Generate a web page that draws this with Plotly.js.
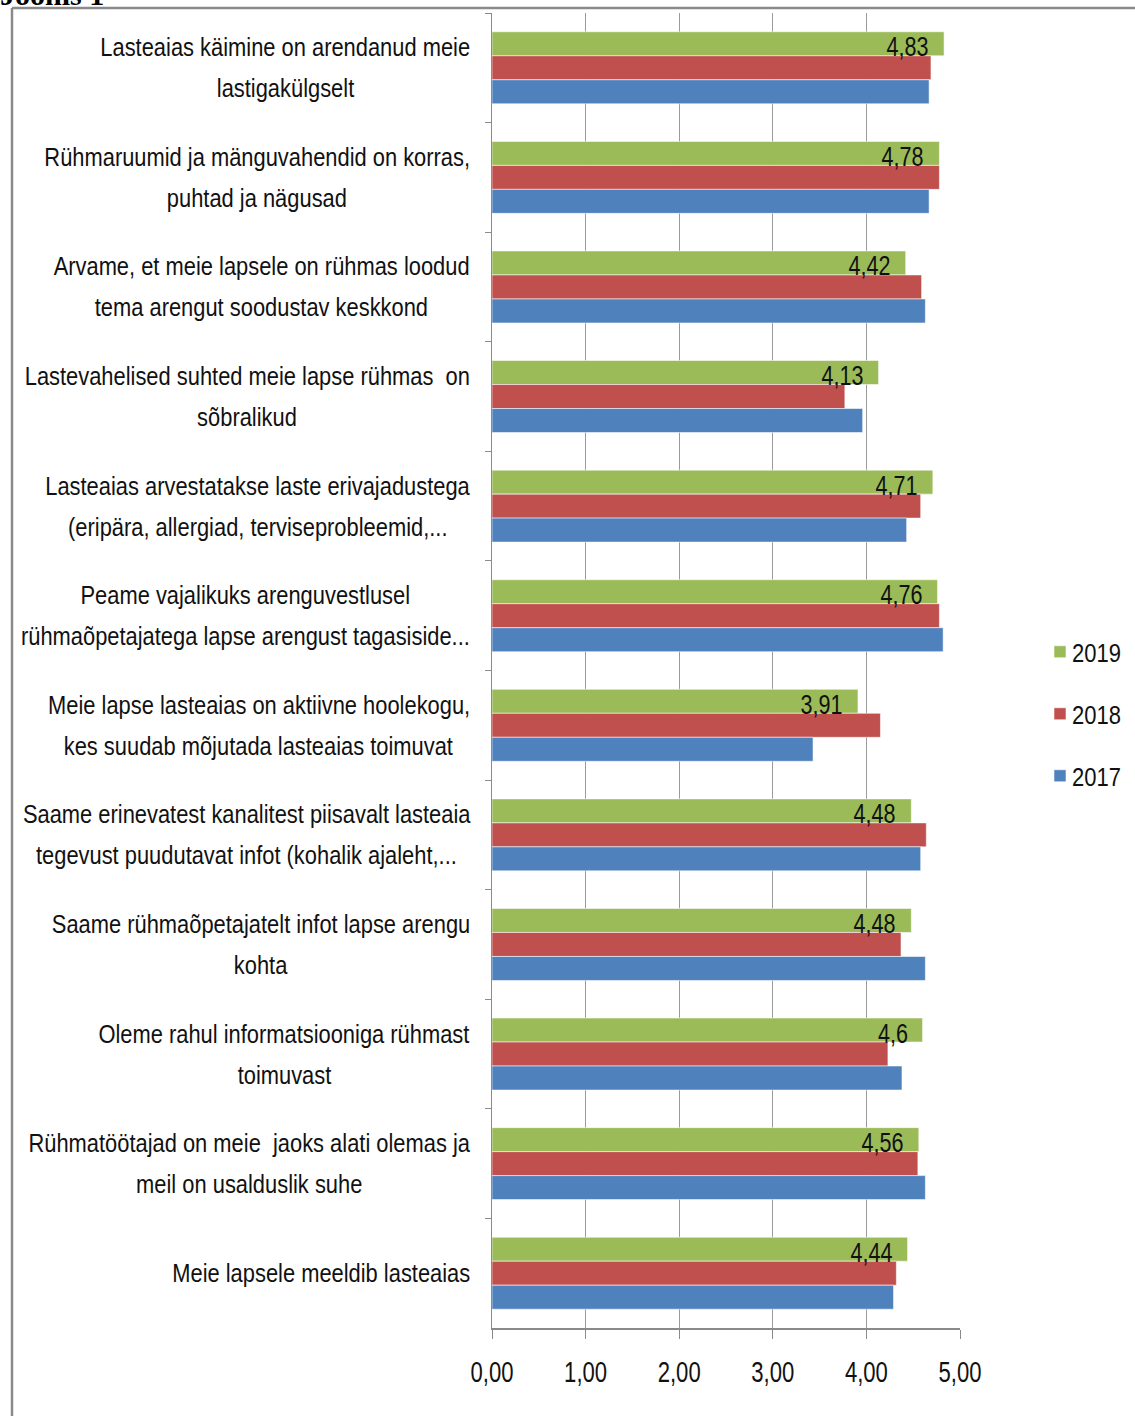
<!DOCTYPE html>
<html>
<head>
<meta charset="utf-8">
<script src="https://cdn.plot.ly/plotly-3.0.1.min.js"></script>
<style>
html,body{margin:0;padding:0;background:#fff;overflow:hidden;}
#chart{width:1135px;height:1416px;}
</style>
</head>
<body>
<div id="chart"></div>
<script>
// ---- data ----
var categories = [
  "Lasteaias käimine on arendanud meie\nlastigakülgselt",
  "Rühmaruumid ja mänguvahendid on korras,\npuhtad ja nägusad",
  "Arvame, et meie lapsele on rühmas loodud\ntema arengut soodustav keskkond",
  "Lastevahelised suhted meie lapse rühmas\u00a0 on\nsõbralikud",
  "Lasteaias arvestatakse laste erivajadustega\n(eripära, allergiad, terviseprobleemid,...",
  "Peame vajalikuks arenguvestlusel\nrühmaõpetajatega lapse arengust tagasiside...",
  "Meie lapse lasteaias on aktiivne hoolekogu,\nkes suudab mõjutada lasteaias toimuvat",
  "Saame erinevatest kanalitest piisavalt lasteaia\ntegevust puudutavat infot (kohalik ajaleht,...",
  "Saame rühmaõpetajatelt infot lapse arengu\nkohta",
  "Oleme rahul informatsiooniga rühmast\ntoimuvast",
  "Rühmatöötajad on meie\u00a0 jaoks alati olemas ja\nmeil on usalduslik suhe",
  "Meie lapsele meeldib lasteaias"
];
var values2019 = [4.83, 4.78, 4.42, 4.13, 4.71, 4.76, 3.91, 4.48, 4.48, 4.6, 4.56, 4.44];
var values2018 = [4.69, 4.78, 4.59, 3.77, 4.58, 4.78, 4.15, 4.64, 4.37, 4.23, 4.55, 4.32];
var values2017 = [4.67, 4.67, 4.63, 3.96, 4.43, 4.82, 3.43, 4.58, 4.63, 4.38, 4.63, 4.29];
var seriesNames = ["2019", "2018", "2017"];
var tickValues = [0, 1, 2, 3, 4, 5];
var figureTitle = "Joonis 1";

// ---- layout helpers ----
var W = 1135, H = 1416;
var ML = 492, MR = 175, MT = 13, MB = 88;
var PW = W - ML - MR, PH = H - MT - MB;
function xp(px){ return (px - ML) / PW; }
function yp(py){ return (H - MB - py) / PH; }

var FONT = '"Liberation Sans", Arial, sans-serif';
var FS_LAB = 25, FS_VAL = 28, FS_TICK = 30, FS_LEG = 25;
var colors = ["#9BBB59", "#C0504D", "#4F81BD"];

var ids = categories.map(function(c, i){ return "c" + i; });
function fmt(v){ return String(v).replace(".", ","); }

// text measuring, for the narrow look of the original font
var cv = document.createElement("canvas");
var ctx = cv.getContext("2d");
function mw(s, size){ ctx.font = size + "px " + FONT; return ctx.measureText(s).width; }
var SX_LAB = 370 / mw(categories[0].split("\n")[0], FS_LAB);
var SX_VAL = 42 / mw("4,83", FS_VAL);
var SX_TICK = 43 / mw("0,00", FS_TICK);
var SX_LEG = 49 / mw("2019", FS_LEG);

var series = [values2019, values2018, values2017];
var traces = series.map(function(vals, k){
  return {
    type: "bar", orientation: "h",
    name: seriesNames[k],
    x: vals, y: ids,
    marker: {color: colors[k], line: {color: "rgba(255,255,255,0.55)", width: 1}},
    legendgroup: "g" + k,
    textposition: "none",
    hoverinfo: "x+name"
  };
});

var annotations = [];
var labelIdx = [];
categories.forEach(function(c, i){
  var lines = c.split("\n");
  var maxW = 0;
  lines.forEach(function(l){ maxW = Math.max(maxW, mw(l, FS_LAB) * SX_LAB); });
  var cx = 470 - maxW / 2;
  var n = lines.length;
  lines.forEach(function(l, j){
    labelIdx.push(annotations.length);
    annotations.push({
      xref: "paper", yref: "y", x: xp(cx), y: ids[i],
      xanchor: "center", yanchor: "middle",
      yshift: ((n - 1) / 2 - j) * 41,
      text: l, showarrow: false,
      font: {family: FONT, size: FS_LAB, color: "#111"}
    });
  });
});
var valIdx = [];
values2019.forEach(function(v, i){
  valIdx.push(annotations.length);
  annotations.push({
    xref: "x", yref: "y", x: v, y: ids[i],
    xanchor: "right", yanchor: "middle",
    xshift: -13, yshift: 21,
    text: fmt(v), showarrow: false,
    font: {family: FONT, size: FS_VAL, color: "#111"}
  });
});

var shapes = [
  {type: "line", xref: "paper", yref: "paper", x0: xp(12), x1: xp(1140), y0: yp(8), y1: yp(8),
   line: {color: "#8a8a8a", width: 2.5}},
  {type: "line", xref: "paper", yref: "paper", x0: xp(12), x1: xp(12), y0: yp(8), y1: yp(1420),
   line: {color: "#8a8a8a", width: 2.5}}
];

var layout = {
  width: W, height: H,
  margin: {l: ML, r: MR, t: MT, b: MB, pad: 0},
  paper_bgcolor: "#fff", plot_bgcolor: "#fff",
  separators: ",.",
  title: {
    text: "<b>" + figureTitle + "</b>",
    xref: "container", x: 0, xanchor: "left",
    yref: "container", y: 1, yanchor: "middle",
    font: {family: '"Liberation Serif", "DejaVu Serif", serif', size: 30, color: "#000"}
  },
  barmode: "group",
  bargap: 0.343, bargroupgap: 0,
  showlegend: true,
  legend: {
    xref: "container", yref: "container",
    x: 1040 / W, y: 1 - 629 / H, xanchor: "left", yanchor: "top",
    font: {family: FONT, size: FS_LEG, color: "#111"},
    itemwidth: 30, tracegroupgap: 26.5, traceorder: "grouped",
    bgcolor: "rgba(0,0,0,0)", borderwidth: 0
  },
  xaxis: {
    range: [0, 5], tickvals: tickValues, tickformat: ".2f",
    showgrid: true, gridcolor: "#9a9a9a", gridwidth: 1,
    showline: true, linecolor: "#8a8a8a", linewidth: 1.5,
    ticks: "outside", ticklen: 9, tickcolor: "#8a8a8a",
    ticklabelstandoff: 8,
    tickfont: {family: FONT, size: FS_TICK, color: "#111"},
    zeroline: false, fixedrange: true
  },
  yaxis: {
    type: "category", autorange: "reversed",
    categoryorder: "array", categoryarray: ids,
    showticklabels: false,
    tickson: "boundaries", ticks: "outside", ticklen: 6, tickcolor: "#8a8a8a",
    showline: true, linecolor: "#8a8a8a", linewidth: 1.5,
    showgrid: false, zeroline: false, fixedrange: true
  },
  annotations: annotations,
  shapes: shapes
};

function squish(nodes, sx, mode, dx, dy){
  nodes.forEach(function(t){
    var b = t.getBBox();
    var ax = mode === "left" ? b.x : (mode === "right" ? b.x + b.width : b.x + b.width / 2);
    var ay = b.y + b.height / 2;
    var ex = t.getAttribute("transform") || "";
    t.setAttribute("transform", ex + " translate(" + (ax + (dx || 0)) + "," + (ay + (dy || 0)) + ") scale(" + sx + ",1) translate(" + (-ax) + "," + (-ay) + ")");
  });
}

Plotly.newPlot("chart", traces, layout, {displayModeBar: false, staticPlot: true}).then(function(gd){
  function annText(i){
    var g = gd.querySelector('g.annotation[data-index="' + i + '"]');
    return g ? Array.prototype.slice.call(g.querySelectorAll("text.annotation-text")) : [];
  }
  var lab = [], val = [];
  labelIdx.forEach(function(i){ lab = lab.concat(annText(i)); });
  valIdx.forEach(function(i){ val = val.concat(annText(i)); });
  squish(lab, SX_LAB, "center");
  squish(val, SX_VAL, "right");
  squish(Array.prototype.slice.call(gd.querySelectorAll(".xtick text")), SX_TICK, "center");
  squish(Array.prototype.slice.call(gd.querySelectorAll(".legendtext")), SX_LEG, "left", -8);
  // the figure caption above the frame is cut by the top edge, as in the original
  squish(Array.prototype.slice.call(gd.querySelectorAll(".gtitle")), 1, "left", 0, -6);
});
</script>
</body>
</html>
